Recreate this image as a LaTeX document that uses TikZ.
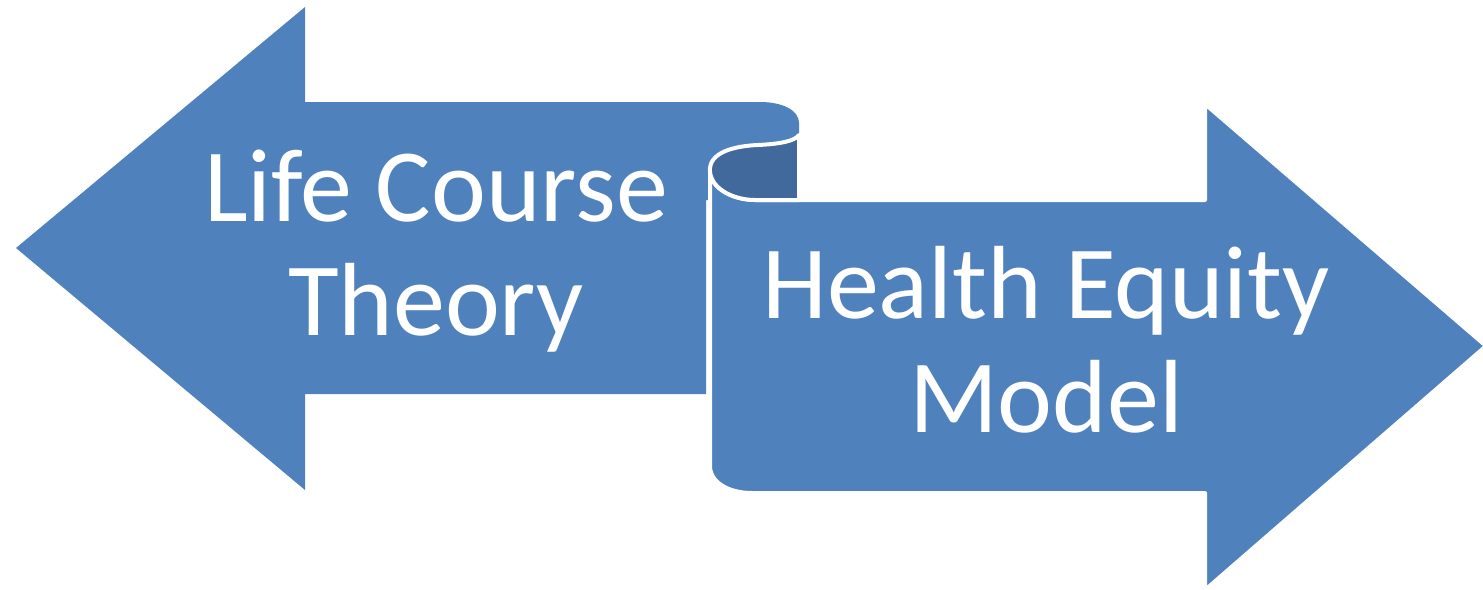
\documentclass[tikz,border=0pt]{standalone}
\usepackage{fontspec}
\setmainfont{Carlito}
\definecolor{arrowblue}{HTML}{4F81BD}
\definecolor{rollshade}{HTML}{41699B}
\begin{document}
\begin{tikzpicture}[x=1pt,y=-1pt,
  arrowbody/.style={fill=arrowblue},
  frontbody/.style={fill=arrowblue,draw=white,line width=4pt,line join=round},
  rollback/.style={fill=rollshade,draw=white,line width=4pt,line join=round},
  label/.style={text=white,align=center,font=\fontsize{104}{114}\selectfont,inner sep=0pt}]
\useasboundingbox (0,0) rectangle (1483,589);

% left-pointing arrow, its shaft curling over at the right end
\path[arrowbody] (16,248) -- (305,7) -- (305,102) -- (760,102)
  .. controls (782,102) and (799,110) .. (799,123)
  -- (799,200) -- (706,200) -- (706,394) -- (305,394) -- (305,490) -- cycle;

% right-pointing arrow, the front sheet of the scroll
\path[frontbody] (710,172) -- (710,466)
  .. controls (710,482) and (728,493) .. (752,493)
  -- (1205,493) -- (1205,590) -- (1486,346) -- (1205,104) -- (1205,200)
  -- (755,200) .. controls (735,200) and (712,190) .. (710,172) -- cycle;

% inside of the rolled-up sheet
\path[rollback] (710,172) .. controls (708,152) and (735,146) .. (758,145)
  .. controls (780,144) and (795,141) .. (799,135)
  -- (799,200) -- (755,200) .. controls (735,200) and (712,190) .. (710,172) -- cycle;

\node[label,anchor=base] (lct) at (436,335) {Life Course\\Theory};
\node[label,anchor=base] (hem) at (1046,432) {Health Equity\\Model};
\end{tikzpicture}
\end{document}
